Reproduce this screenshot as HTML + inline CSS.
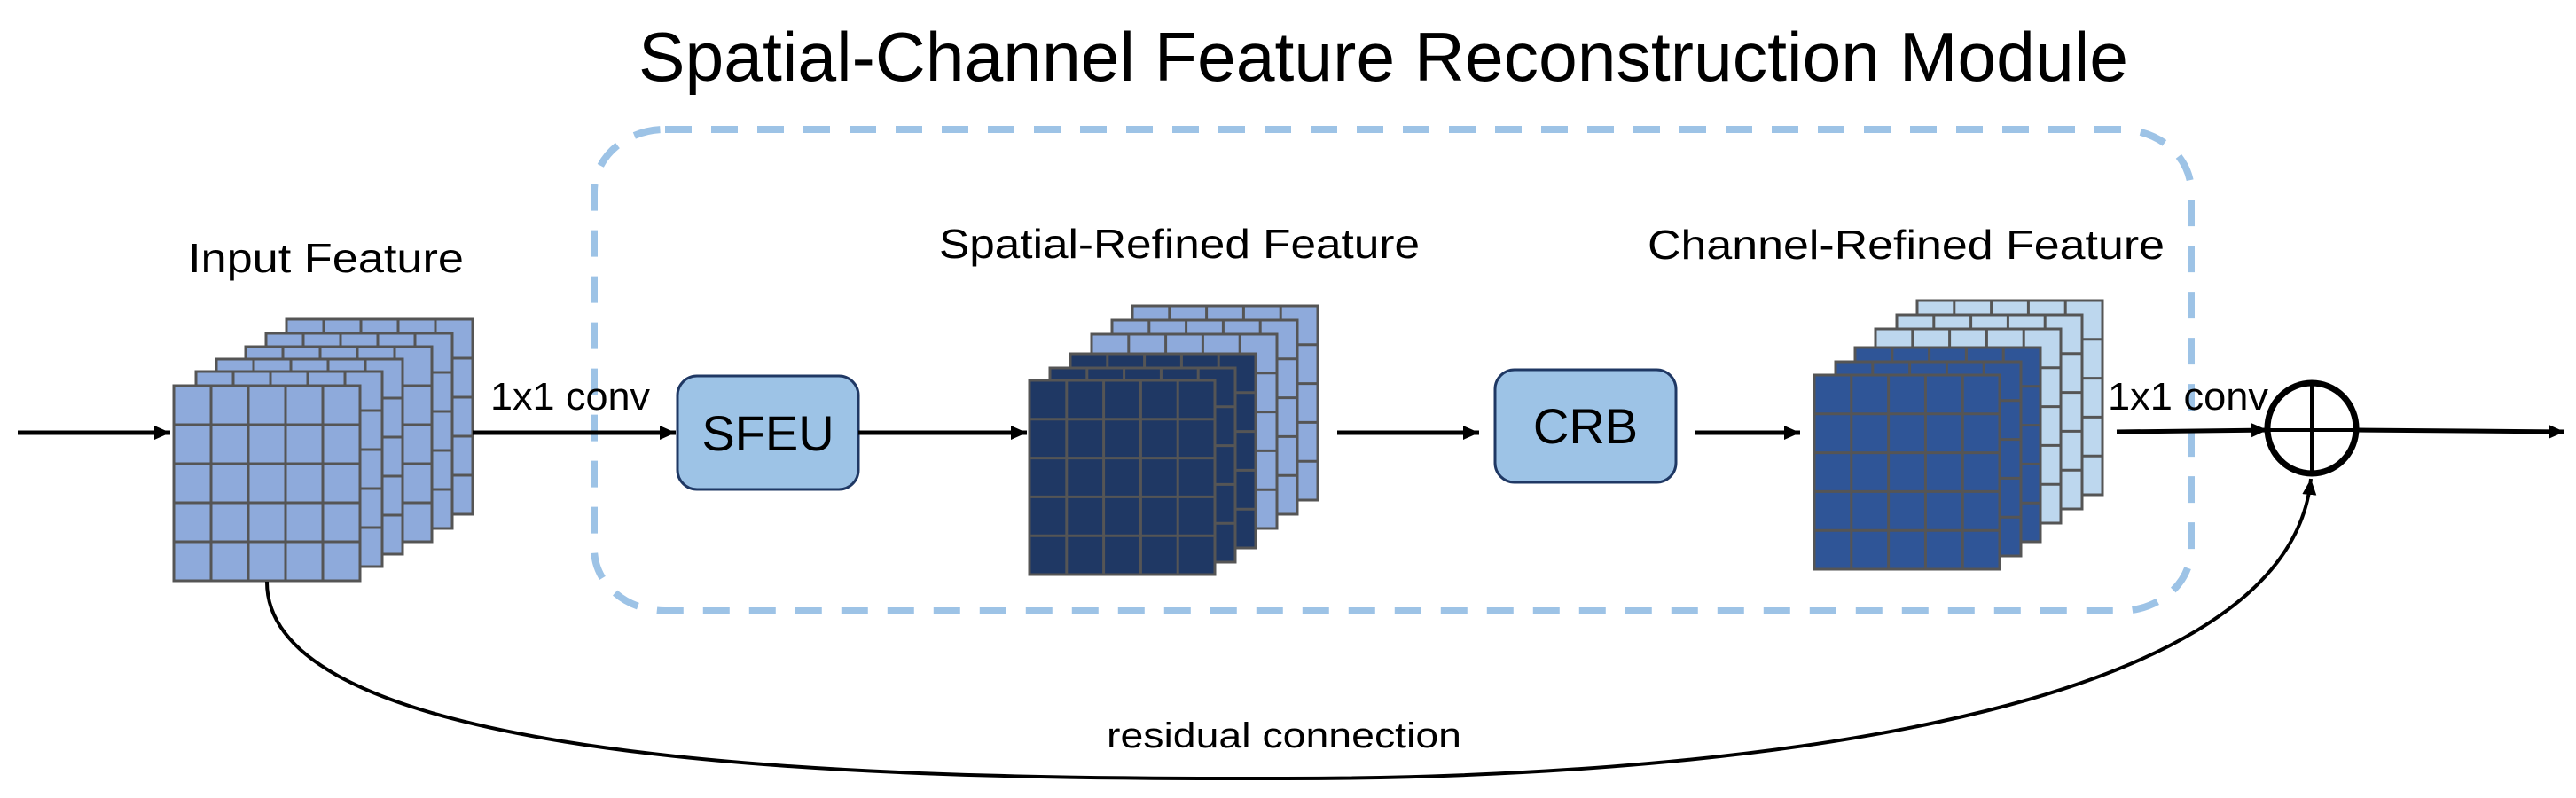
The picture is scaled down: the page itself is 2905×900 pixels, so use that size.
<!DOCTYPE html>
<html><head><meta charset="utf-8"><style>html,body{margin:0;padding:0;background:#fff}svg{display:block}</style></head>
<body>
<svg width="2905" height="900" viewBox="0 0 2905 900" xmlns="http://www.w3.org/2000/svg" font-family="Liberation Sans, sans-serif">
<defs>
<marker id="ah" markerWidth="10" markerHeight="10" refX="9" refY="5" orient="auto" markerUnits="userSpaceOnUse">
<path d="M0,0 L10,5 L0,10 z" fill="#000"/>
</marker>
<marker id="ah2" markerWidth="20" markerHeight="20" refX="18" refY="10" orient="auto" markerUnits="userSpaceOnUse">
<path d="M0,2 L18,10 L0,18 z" fill="#000"/>
</marker>
<pattern id="g" width="42" height="44" patternUnits="userSpaceOnUse">
<path d="M42,0 V44 M0,44 H42" stroke="#555" stroke-width="3" fill="none"/>
</pattern>
</defs>

<text x="720" y="91" font-size="78" textLength="1680" lengthAdjust="spacingAndGlyphs">Spatial-Channel Feature Reconstruction Module</text>

<rect x="670" y="146" width="1801" height="543" rx="80" ry="70" fill="none" stroke="#9dc3e6" stroke-width="8" stroke-dasharray="30 22"/>

<text x="212" y="307" font-size="46" textLength="311" lengthAdjust="spacingAndGlyphs">Input Feature</text>
<text x="1059" y="291" font-size="46" textLength="542" lengthAdjust="spacingAndGlyphs">Spatial-Refined Feature</text>
<text x="1858" y="292" font-size="46" textLength="583" lengthAdjust="spacingAndGlyphs">Channel-Refined Feature</text>

<g id="sheets"></g>

<!-- Input feature stack -->
<g stroke="#555" stroke-width="3">
<g fill="#8eaadb">
<rect x="323" y="360" width="210" height="220"/>
<rect x="300" y="376" width="210" height="220"/>
<rect x="277" y="391" width="210" height="220"/>
<rect x="244" y="405" width="210" height="220"/>
<rect x="221" y="419" width="210" height="220"/>
<rect x="196" y="435" width="210" height="220"/>
</g>
</g>
<!-- Spatial stack -->
<g stroke="#555" stroke-width="3">
<rect x="1277" y="345" width="209" height="219" fill="#8eaadb"/>
<rect x="1254" y="361" width="209" height="219" fill="#8eaadb"/>
<rect x="1231" y="377" width="209" height="219" fill="#8eaadb"/>
<rect x="1207" y="399" width="209" height="219" fill="#1f3864"/>
<rect x="1184" y="415" width="209" height="219" fill="#1f3864"/>
<rect x="1161" y="429" width="209" height="219" fill="#1f3864"/>
</g>
<!-- Channel stack -->
<g stroke="#555" stroke-width="3">
<rect x="2162" y="339" width="209" height="219" fill="#bdd7ee"/>
<rect x="2139" y="355" width="209" height="219" fill="#bdd7ee"/>
<rect x="2115" y="371" width="209" height="219" fill="#bdd7ee"/>
<rect x="2092" y="392" width="209" height="219" fill="#2f5597"/>
<rect x="2070" y="408" width="209" height="219" fill="#2f5597"/>
<rect x="2046" y="423" width="209" height="219" fill="#2f5597"/>
</g>

<!-- grid lines -->
<g stroke="#555" stroke-width="3" id="grids">
</g>
<script>
(function(){
var ns="http://www.w3.org/2000/svg";
var svg=document.querySelector('svg');
var rects=[].slice.call(svg.querySelectorAll('rect[width="210"],rect[width="209"]'));
rects.forEach(function(r){
var x=+r.getAttribute('x'),y=+r.getAttribute('y'),w=+r.getAttribute('width'),h=+r.getAttribute('height');
var d='';
for(var i=1;i<5;i++){var xx=x+w*i/5;d+='M'+xx+','+y+'V'+(y+h);var yy=y+h*i/5;d+='M'+x+','+yy+'H'+(x+w);}
var p=document.createElementNS(ns,'path');p.setAttribute('d',d);p.setAttribute('stroke','#555');p.setAttribute('stroke-width','3');p.setAttribute('fill','none');
r.parentNode.insertBefore(p,r.nextSibling);
});
})();
</script>

<!-- boxes -->
<rect x="764" y="424" width="204" height="128" rx="22" fill="#9dc3e6" stroke="#1f3864" stroke-width="3"/>
<text x="866" y="508" font-size="56" text-anchor="middle">SFEU</text>
<rect x="1686" y="417" width="204" height="127" rx="22" fill="#9dc3e6" stroke="#1f3864" stroke-width="3"/>
<text x="1788" y="500" font-size="56" text-anchor="middle">CRB</text>

<!-- arrows -->
<g stroke="#000" stroke-width="5" fill="none">
<line x1="20" y1="488" x2="192" y2="488" marker-end="url(#ah2)"/>
<line x1="533" y1="488" x2="762" y2="488" marker-end="url(#ah2)"/>
<line x1="968" y1="488" x2="1158" y2="488" marker-end="url(#ah2)"/>
<line x1="1508" y1="488" x2="1668" y2="488" marker-end="url(#ah2)"/>
<line x1="1911" y1="488" x2="2030" y2="488" marker-end="url(#ah2)"/>
<line x1="2387" y1="487" x2="2557" y2="485" marker-end="url(#ah2)"/>
<line x1="2658" y1="485" x2="2892" y2="487" marker-end="url(#ah2)"/>
</g>
<text x="553" y="462" font-size="44" textLength="180" lengthAdjust="spacingAndGlyphs">1x1 conv</text>
<text x="2377" y="462" font-size="44" textLength="181" lengthAdjust="spacingAndGlyphs">1x1 conv</text>

<!-- sum circle -->
<ellipse cx="2607" cy="483" rx="50" ry="51" fill="none" stroke="#000" stroke-width="7"/>
<line x1="2607" y1="432" x2="2607" y2="534" stroke="#000" stroke-width="4"/>
<line x1="2557" y1="485" x2="2657" y2="485" stroke="#000" stroke-width="4"/>

<!-- residual -->
<path d="M301,656 C300,880 1100,878 1450,878 C1900,878 2580,820 2606,540" fill="none" stroke="#000" stroke-width="4" marker-end="url(#ah2)"/>
<text x="1248" y="843" font-size="40" textLength="400" lengthAdjust="spacingAndGlyphs">residual connection</text>
</svg>
</body></html>
